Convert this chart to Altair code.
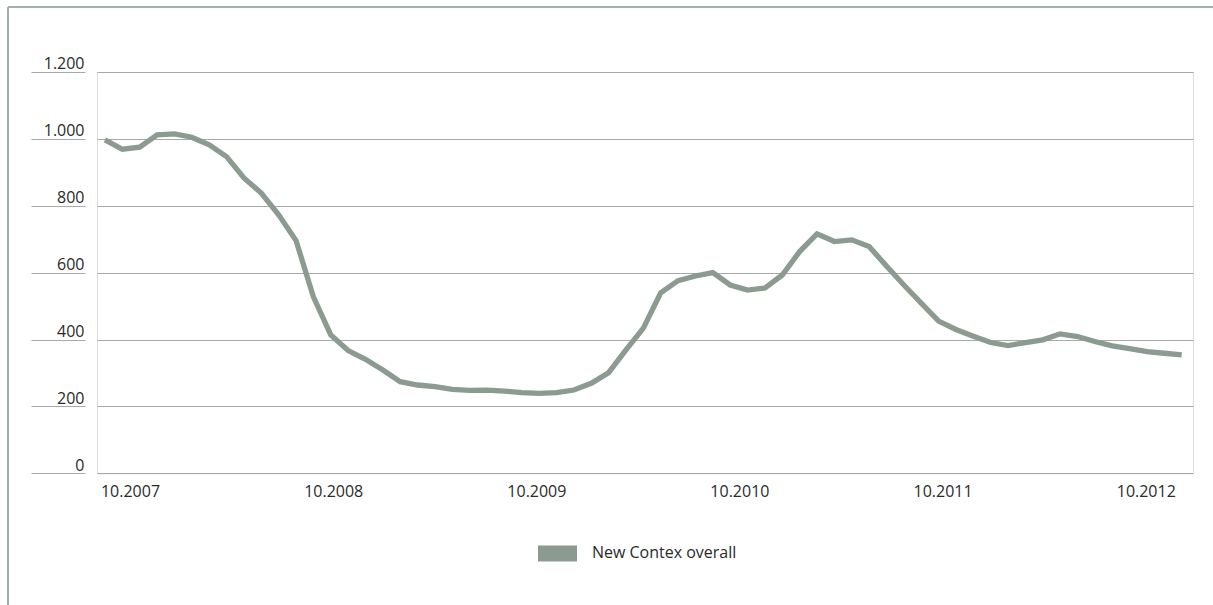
import altair as alt
import pandas as pd

series_name = "New Contex overall"
values = [997, 969, 975, 1012, 1015, 1005, 982, 947, 883, 838, 773, 696,
          528, 414, 367, 341, 309, 274, 264, 259, 251, 248, 249, 246, 241,
          239, 241, 249, 269, 301, 369, 434, 540, 576, 590, 600, 563, 548,
          554, 593, 663, 716, 693, 698, 678, 620, 563, 509, 455, 430, 410,
          391, 382, 391, 399, 417, 409, 394, 381, 373, 364, 359, 354]
x_labels = ["10.2007", "10.2008", "10.2009", "10.2010", "10.2011", "10.2012"]
x_label_at = [1.44, 13.14, 24.84, 36.53, 48.23, 59.93]
y_ticks = [0, 200, 400, 600, 800, 1000, 1200]

df = pd.DataFrame({"i": list(range(len(values))), "v": values, "s": series_name})

FONT = "Open Sans"
LINE = "#8b9b8f"
TXT = "#2a2a2a"
GRID = "#a9a9a9"

label_expr = "[" + ",".join("'%s'" % l for l in x_labels) + "][indexof([" + \
    ",".join(str(p) for p in x_label_at) + "], datum.value)]"

xscale = alt.Scale(domain=[-0.46, 62.65], nice=False, zero=False)
yscale = alt.Scale(domain=[0, 1200], nice=False)

line = alt.Chart(df).mark_line(strokeWidth=5.3, strokeJoin="miter", clip=False).encode(
    x=alt.X("i:Q", scale=xscale,
            axis=alt.Axis(values=x_label_at, labelExpr=label_expr, title=None,
                          grid=False, ticks=False, domain=False, labelPadding=10,
                          labelFontSize=16, labelColor=TXT, labelFont=FONT)),
    y=alt.Y("v:Q", scale=yscale,
            axis=alt.Axis(values=y_ticks, title=None, grid=True, gridColor=GRID,
                          gridWidth=1.2, domain=False, ticks=False, labels=False,
                          orient="left")),
    color=alt.Color("s:N", scale=alt.Scale(range=[LINE]),
                    legend=alt.Legend(title=None, orient="none", legendX=441, legendY=462,
                                      symbolType="M-1,-0.41L1,-0.41L1,0.41L-1,0.41Z",
                                      symbolSize=1521, symbolFillColor=LINE,
                                      symbolStrokeWidth=0, labelOffset=15,
                                      labelFontSize=16, labelColor=TXT, labelFont=FONT)),
)

ylabels = alt.Chart(df).mark_point(opacity=0).encode(
    y=alt.Y("v:Q", scale=yscale,
            axis=alt.Axis(values=y_ticks, title=None, grid=False, domain=False,
                          ticks=True, tickSize=54, tickColor=GRID, tickWidth=1.2,
                          offset=12, orient="left",
                          labelPadding=-53, labelAlign="right", labelBaseline="alphabetic",
                          labelOffset=-3, labelFontSize=16, labelColor=TXT, labelFont=FONT,
                          labelExpr="replace(format(datum.value, ','), ',', '.')")),
)

frame_top = alt.Chart(df).mark_rule(color="#a3b0a8", strokeWidth=1.5).encode(
    x=alt.value(-89), x2=alt.value(1116), y=alt.value(-65))
frame_left = alt.Chart(df).mark_rule(color="#a3b0a8", strokeWidth=1.5).encode(
    x=alt.value(-89), y=alt.value(-65), y2=alt.value(533))

chart = alt.layer(frame_top, frame_left, line, ylabels).resolve_axis(
    y="independent"
).properties(
    width=1096, height=401.3,
    autosize=alt.AutoSizeParams(type="none"),
    padding={"left": 97, "top": 72, "right": 20, "bottom": 132},
).configure_view(stroke=None).configure(background="white")

chart.save("out.html", embed_options={"renderer": "svg", "actions": False})
